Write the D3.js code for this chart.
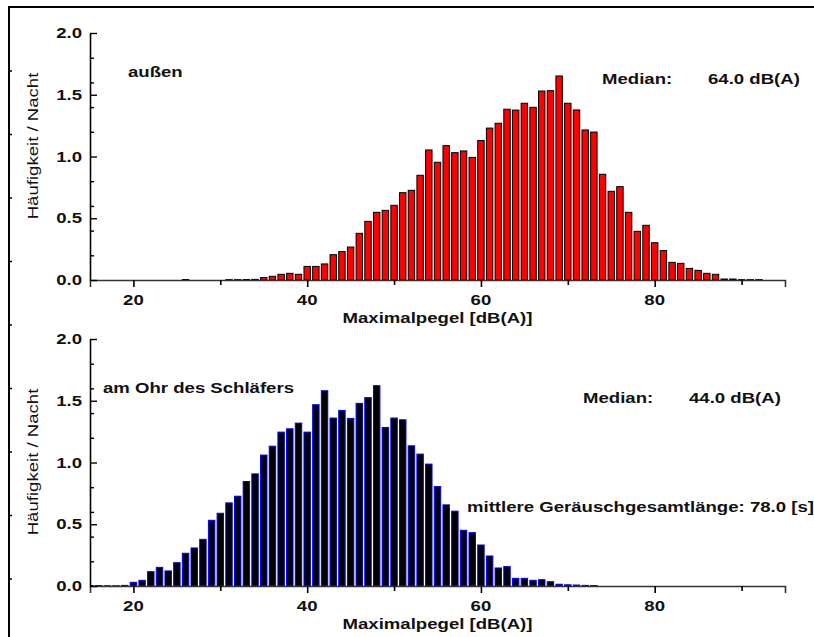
<!DOCTYPE html>
<html>
<head>
<meta charset="utf-8">
<script src="https://cdn.jsdelivr.net/npm/d3@7"></script>
<style>
  html, body { margin: 0; padding: 0; background: #fff; }
  svg { display: block; }
  text { font-family: "Liberation Sans", Arial, sans-serif; fill: #111; }
</style>
</head>
<body>
<div id="chart"></div>
<script>
// Pegelklassen [dB(A)], 1-dB-Klassen
const levels = [15, 16, 17, 18, 19, 20, 21, 22, 23, 24, 25, 26, 27, 28, 29, 30, 31, 32, 33, 34,
  35, 36, 37, 38, 39, 40, 41, 42, 43, 44, 45, 46, 47, 48, 49, 50, 51, 52, 53, 54,
  55, 56, 57, 58, 59, 60, 61, 62, 63, 64, 65, 66, 67, 68, 69, 70, 71, 72, 73, 74,
  75, 76, 77, 78, 79, 80, 81, 82, 83, 84, 85, 86, 87, 88, 89, 90, 91, 92, 93];

// Häufigkeit / Nacht, außen
const aussenValues = [0, 0, 0, 0, 0, 0, 0, 0, 0, 0, 0,
  0.004,
  0, 0, 0, 0,
  0.003, 0.003, 0.004, 0.005,
  0.02, 0.03, 0.046, 0.054, 0.046,
  0.11, 0.11, 0.13, 0.205, 0.23, 0.267, 0.378, 0.475, 0.548, 0.564,
  0.605, 0.707, 0.726, 0.848, 1.053, 0.953, 1.088, 1.031, 1.045, 0.993,
  1.13, 1.23, 1.269, 1.383, 1.376, 1.431, 1.398, 1.53, 1.533, 1.652,
  1.431, 1.377, 1.215, 1.198, 0.856, 0.718, 0.756, 0.548, 0.394, 0.443,
  0.302, 0.238, 0.143, 0.135, 0.094, 0.078, 0.054, 0.046, 0.008, 0.008,
  0.003, 0.003, 0.003, 0];

// Häufigkeit / Nacht, am Ohr des Schläfers
const ohrValues = [0.004, 0.004, 0.002, 0.002, 0.005,
  0.03, 0.046, 0.116, 0.151, 0.122, 0.189, 0.265, 0.308, 0.378, 0.532,
  0.589, 0.673, 0.727, 0.846, 0.908, 1.06, 1.132, 1.246, 1.273, 1.319,
  1.246, 1.468, 1.581, 1.36, 1.422, 1.357, 1.479, 1.525, 1.622, 1.284,
  1.36, 1.346, 1.135, 1.068, 0.987, 0.805, 0.657, 0.606, 0.451, 0.432,
  0.332, 0.243, 0.146, 0.157, 0.062, 0.062, 0.046, 0.051, 0.035, 0.014,
  0.01, 0.008, 0.005, 0.004,
  0, 0, 0, 0, 0, 0, 0, 0, 0, 0, 0, 0, 0, 0, 0, 0, 0, 0, 0, 0];

const xDomain = [15, 95];
const yDomain = [0, 2];
const xTitle = "Maximalpegel [dB(A)]";
const yTitle = "Häufigkeit / Nacht";

const panels = [
  {
    id: "aussen", values: aussenValues, top: 33, bottom: 280,
    fill: "#ff0000", stroke: "#000",
    notes: [
      { text: "außen", x: 128, dy: 44 },
      { text: "Median:", x: 602, dy: 51 },
      { text: "64.0 dB(A)", x: 708, dy: 51 },
    ],
    titleY: 146,
  },
  {
    id: "ohr", values: ohrValues, top: 339, bottom: 586,
    fill: "#000", stroke: "#0000ff",
    notes: [
      { text: "am Ohr des Schläfers", x: 103, dy: 54 },
      { text: "Median:", x: 583, dy: 64 },
      { text: "44.0 dB(A)", x: 689, dy: 64 },
      { text: "mittlere Geräuschgesamtlänge: 78.0 [s]", x: 467, dy: 173 },
    ],
    titleY: 462,
  },
];

const width = 814, height = 637;
const left = 90, right = 785;
const SX = 1.24; // the original labels are drawn a bit wide

const svg = d3.select("#chart").append("svg")
  .attr("width", width).attr("height", height)
  .attr("viewBox", [0, 0, width, height]);

function label(g, x, y, str, { bold = true, anchor = "start", rotate = 0 } = {}) {
  return g.append("text")
    .attr("transform", `translate(${x},${y})${rotate ? ` rotate(${rotate})` : ""} scale(${SX},1)`)
    .attr("text-anchor", anchor)
    .attr("font-size", 15)
    .attr("font-weight", bold ? "bold" : "normal")
    .text(str);
}

// outer frame (left + top only, like the export)
const frame = svg.append("g");
frame.append("path").attr("d", `M9,${height} V7 H${width}`)
  .attr("fill", "none").attr("stroke", "#000").attr("stroke-width", 2);
const frameTicks = d3.scaleLinear().domain([0, 8]).range([71, 579]);
frame.selectAll("line.ft").data(d3.range(9)).join("line")
  .attr("x1", 9).attr("x2", 12)
  .attr("y1", (d) => frameTicks(d)).attr("y2", (d) => frameTicks(d))
  .attr("stroke", "#000").attr("stroke-width", 1.5);

const x = d3.scaleLinear().domain(xDomain).range([left, right]);
const barW = (x(1) - x(0)) * 0.74;

panels.forEach((p) => {
  const y = d3.scaleLinear().domain(yDomain).range([p.bottom, p.top]);
  const g = svg.append("g").attr("class", p.id);

  const clipId = `clip-${p.id}`;
  g.append("clipPath").attr("id", clipId)
    .append("rect").attr("x", left).attr("y", p.top - 5)
    .attr("width", right - left).attr("height", p.bottom - p.top + 5);

  const rows = levels.map((lv, i) => ({ level: lv, value: p.values[i] })).filter((d) => d.value > 0);
  g.append("g").attr("clip-path", `url(#${clipId})`)
    .selectAll("rect").data(rows).join("rect")
    .attr("x", (d) => x(d.level) - barW / 2)
    .attr("y", (d) => y(d.value))
    .attr("width", barW)
    .attr("height", (d) => y(0) - y(d.value))
    .attr("fill", p.fill)
    .attr("stroke", p.stroke)
    .attr("stroke-width", 1);

  // x axis: outward ticks
  const xMajor = x.ticks(4);
  const xMinor = x.ticks(8).filter((t) => !xMajor.includes(t));
  const xa = g.append("g").attr("transform", `translate(0,${p.bottom})`);
  xa.call(d3.axisBottom(x).tickValues(xMajor).tickSize(7).tickFormat(""));
  xa.append("g").call(d3.axisBottom(x).tickValues(xMinor).tickSize(5).tickFormat(""))
    .select(".domain").remove();
  xa.selectAll(".domain").attr("stroke", "#333").attr("stroke-width", 1.6);
  xa.selectAll(".tick line").attr("stroke", "#000").attr("stroke-width", 1.6);
  xMajor.forEach((t) => label(g, x(t), p.bottom + 24.5, String(t), { anchor: "middle" }));

  // y axis: inward ticks
  const yMajor = y.ticks(4);
  const yMinor = y.ticks(8).filter((t) => !yMajor.includes(t));
  const ya = g.append("g").attr("transform", `translate(${left},0)`);
  ya.call(d3.axisLeft(y).tickValues(yMajor).tickSizeInner(-7).tickSizeOuter(0).tickFormat(""));
  ya.append("g").call(d3.axisLeft(y).tickValues(yMinor).tickSizeInner(-4).tickSizeOuter(0).tickFormat(""))
    .select(".domain").remove();
  ya.selectAll(".domain").attr("stroke", "#000").attr("stroke-width", 1.6);
  ya.selectAll(".tick line").attr("stroke", "#000").attr("stroke-width", 1.4);
  yMajor.forEach((t) => label(g, 82, y(t) + 5, d3.format(".1f")(t), { anchor: "end" }));

  // titles
  label(g, (left + right) / 2, p.bottom + 43, xTitle, { anchor: "middle" });
  label(g, 38, p.titleY, yTitle, { bold: false, anchor: "middle", rotate: -90 });

  p.notes.forEach((n) => label(g, n.x, p.top + n.dy, n.text));
});
</script>
</body>
</html>
